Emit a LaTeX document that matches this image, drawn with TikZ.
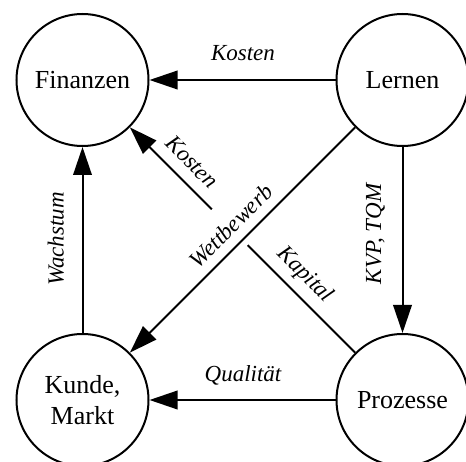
\documentclass[tikz,border=0pt]{standalone}
\usepackage{fontspec}
\setmainfont{Liberation Serif}
\usetikzlibrary{arrows.meta}
\begin{document}
\begin{tikzpicture}[x=1pt,y=-1pt,
  state/.style={circle, draw, line width=2pt, minimum size=132pt, inner sep=0pt,
    align=center, font=\fontsize{26}{31.5}\selectfont},
  flow/.style={line width=2pt, -{Triangle[length=28pt,width=18.5pt]}},
  lbl/.style={font=\fontsize{23}{27}\selectfont\itshape, inner sep=0pt},
]
\useasboundingbox (0,0) rectangle (466,462);

% the four perspectives
\node[state] (fin) at (82.5,80)  {Finanzen};
\node[state] (ler) at (402.5,80) {Lernen};
\node[state] (kun) at (82.5,400) {Kunde,\\Markt};
\node[state] (pro) at (402.5,400) {Prozesse};

% horizontal and vertical links
\draw[flow] (ler) -- (fin);
\node[lbl, anchor=base] (lkosten) at (243,60.5) {Kosten};

\draw[flow] (ler) -- (pro);
\node[lbl, rotate=90, anchor=base] (lkvp) at (381,234) {KVP, TQM};

\draw[flow] (pro) -- (kun);
\node[lbl, anchor=base] (lqual) at (243,381.5) {Qualität};

\draw[flow] (kun) -- (fin);
\node[lbl, rotate=90, anchor=base] (lwachs) at (63.5,239) {Wachstum};

% diagonal from processes to finance
\draw[flow] (pro) -- (fin);
\node[lbl, rotate=-45] (lkosten2) at (192,162) {Kosten};
\node[lbl, rotate=-45] (lkapital) at (305,275) {Kapital};

% diagonal from learning to market, its label masks the crossing
\node[lbl, rotate=45, fill=white, inner ysep=17pt, inner xsep=1pt] (lwett) at (231,226) {Wettbewerb};
\draw[flow] (ler) -- (kun);
\end{tikzpicture}
\end{document}
